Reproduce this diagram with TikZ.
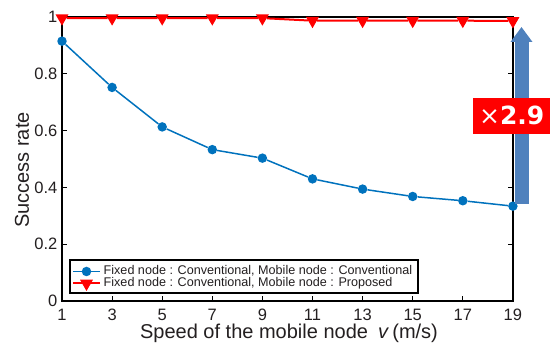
\documentclass[tikz,border=0pt]{standalone}
\usepackage{fontspec}
\setmainfont{Liberation Sans}
\newfontfamily\badgefont{DejaVu Sans}
\usetikzlibrary{shapes.geometric,arrows.meta}
\definecolor{ink}{HTML}{231F20}
\definecolor{seriesblue}{HTML}{0072BD}
\definecolor{seriesred}{HTML}{FF0000}
\definecolor{gainblue}{HTML}{4F81BD}
\begin{document}
\begin{tikzpicture}[x=1pt,y=1pt,
  axisline/.style={line width=1.8pt, draw=black},
  tickmark/.style={line width=1.2pt, draw=black},
  ticklabel/.style={font=\fontsize{16.5}{16.5}\selectfont, text=ink, inner sep=0pt},
  axislabel/.style={font=\fontsize{20}{20}\selectfont, text=ink, inner sep=0pt},
  bluemark/.style={circle, fill=seriesblue, minimum size=9.5pt, inner sep=0pt},
  redmark/.style={regular polygon, regular polygon sides=3, shape border rotate=180,
                  fill=seriesred, minimum size=15pt, inner sep=0pt},
  blueline/.style={draw=seriesblue, line width=1.5pt},
  redline/.style={draw=seriesred, line width=2pt},
  legendbox/.style={draw=black, fill=white, line width=1.5pt, inner sep=0pt},
  legendtext/.style={font=\fontsize{12.6}{13}\selectfont, text=ink, anchor=west,
                     inner sep=0pt, text height=8.8pt, text depth=2.4pt},
]
\useasboundingbox (0,0) rectangle (550,345);

% plot area: x in m/s, y in success rate
\begin{scope}[shift={(36.95pt,44pt)}, x=25.05pt, y=284pt]
  \coordinate (ll) at (1,0);
  \coordinate (lr) at (19,0);
  \coordinate (ur) at (19,1);
  \coordinate (ul) at (1,1);

  % ticks and tick labels
  \foreach \v in {1,3,...,19} {
    \draw[tickmark] (\v,0) -- ++(0,5pt);
    \draw[tickmark] (\v,1) -- ++(0,-5pt);
    \node[ticklabel, anchor=north] at ([yshift=-7.5pt]\v,0) {\v};
  }
  \foreach \s/\lab in {0/0,0.2/0.2,0.4/0.4,0.6/0.6,0.8/0.8,1/1} {
    \draw[tickmark] (1,\s) -- ++(5pt,0);
    \draw[tickmark] (19,\s) -- ++(-5pt,0);
    \node[ticklabel, anchor=east] at ([xshift=-4.5pt]1,\s) {\lab};
  }

  % frame
  \draw[axisline] (ul) -- (ll) -- (lr) -- (ur) -- cycle;

  % conventional mobile node
  \foreach \v/\s in {1/0.915,3/0.752,5/0.613,7/0.533,9/0.503,11/0.430,13/0.394,15/0.368,17/0.353,19/0.334}
    \node[bluemark] (b\v) at (\v,\s) {};
  \draw[blueline] (b1) -- (b3) -- (b5) -- (b7) -- (b9) -- (b11) -- (b13) -- (b15) -- (b17) -- (b19);

  % proposed mobile node
  \foreach \v/\s in {1/0.996,3/0.996,5/0.996,7/0.996,9/0.996,11/0.987,13/0.987,15/0.987,17/0.987,19/0.986}
    \node[redmark] (r\v) at (\v,\s) {};
  \draw[redline] (r1) -- (r3) -- (r5) -- (r7) -- (r9) -- (r11) -- (r13) -- (r15) -- (r17) -- (r19);
\end{scope}

% axis titles
\node[axislabel, rotate=90] (ylab) at (22,175) {Success rate};
\node[axislabel] (xlab) at (289,12) {Speed of the mobile node\enspace\textit{v}\,(m/s)};

% legend
\node[legendbox, minimum width=348pt, minimum height=33pt, anchor=south west] (legend) at (69,51) {};
\coordinate (lb0) at (73,73.5);
\coordinate (lb1) at (100,73.5);
\coordinate (lr0) at (73,61.5);
\coordinate (lr1) at (100,61.5);
\draw[blueline] (lb0) -- (lb1);
\node[bluemark] (lbm) at (86.5,73.5) {};
\draw[redline] (lr0) -- (lr1);
\node[redmark] (lrm) at (86.5,61.5) {};
\node[legendtext] (lbt) at (103.5,73.5) {Fixed node : Conventional, Mobile node : Conventional};
\node[legendtext] (lrt) at (103.5,61.5) {Fixed node : Conventional, Mobile node : Proposed};

% improvement arrow and badge
\coordinate (gainfoot) at (521.5,141);
\coordinate (gaintip) at (521.5,318);
\draw[gainblue, line width=14pt, -{Triangle[width=21pt,length=15pt]}] (gainfoot) -- (gaintip);
\node[fill=seriesred, text=white, minimum width=77pt, minimum height=36pt, inner sep=0pt,
      anchor=south west] (gain) at (473,211)
  {\badgefont\fontsize{25}{25}\selectfont ×\bfseries 2.9};
\end{tikzpicture}
\end{document}
